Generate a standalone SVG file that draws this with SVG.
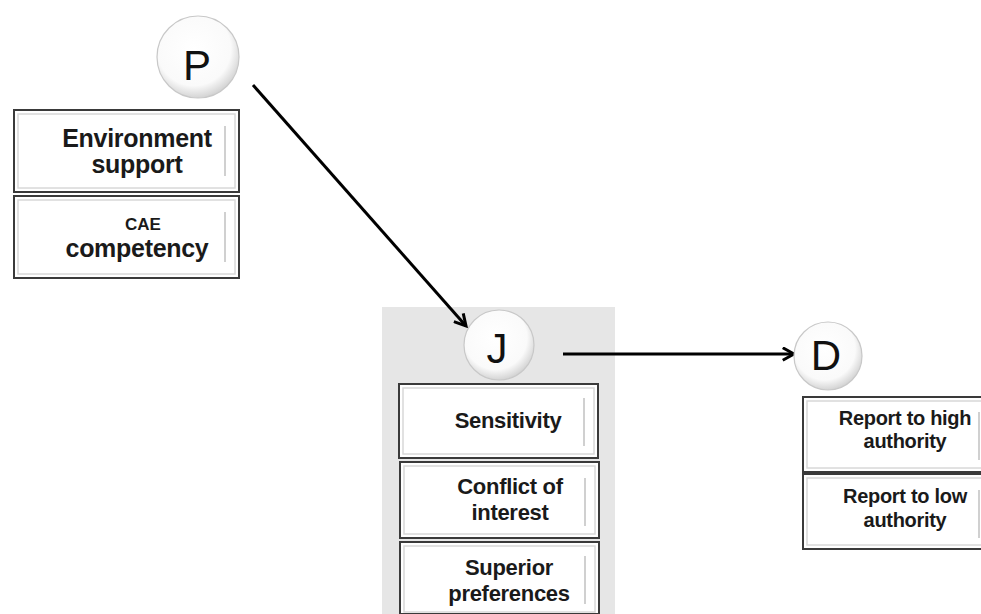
<svg xmlns="http://www.w3.org/2000/svg" width="981" height="614" viewBox="0 0 981 614">
<defs>
<radialGradient id="ball" cx="0.45" cy="0.4" r="0.6">
<stop offset="0" stop-color="#ffffff"/>
<stop offset="0.75" stop-color="#fafafa"/>
<stop offset="1" stop-color="#d4d4d4"/>
</radialGradient>
<marker id="arr" viewBox="0 0 12 12" refX="10" refY="6" markerWidth="5" markerHeight="5" orient="auto" markerUnits="strokeWidth">
<path d="M1,1 L10,6 L1,11" fill="none" stroke="#000" stroke-width="2.4"/>
</marker>
<style>
.box{fill:#fff;stroke:#3a3a3a;stroke-width:2}
.inner{fill:none;stroke:#d8d8d8;stroke-width:1.5}
.bar{stroke:#d0d0d0;stroke-width:2}
.ball{fill:url(#ball);stroke:#c8c8c8;stroke-width:1.2}
.lt{font-family:"Liberation Sans",Arial,sans-serif;font-size:42px;fill:#111;text-anchor:middle}
.t{font-family:"Liberation Sans",Arial,sans-serif;font-weight:bold;fill:#1a1a1a;text-anchor:middle;letter-spacing:-0.3px}
.tl{font-size:25px}
.tj{font-size:22px}
.td{font-size:20px}
.ts{font-family:"Liberation Sans",Arial,sans-serif;font-weight:bold;font-size:17px;fill:#1a1a1a;text-anchor:middle}
.con{stroke:#000;stroke-width:3;fill:none}
</style>
</defs>
<rect width="981" height="614" fill="#fff"/>
<rect x="382" y="307" width="233" height="307" fill="#e6e6e6"/>
<g id="connectors">
<line class="con" x1="253" y1="85" x2="466" y2="326" marker-end="url(#arr)"/>
<line class="con" x1="563" y1="354" x2="794" y2="354" marker-end="url(#arr)"/>
</g>
<g id="node-P">
<circle class="ball" cx="198" cy="57" r="41"/>
<text class="lt" x="197" y="80">P</text>
</g>
<g id="node-env">
<rect class="box" x="14" y="110" width="225" height="82"/>
<rect class="inner" x="18" y="114" width="217" height="74"/>
<line class="bar" x1="225" y1="126" x2="225" y2="176"/>
<text class="t tl" x="137" y="147">Environment</text>
<text class="t tl" x="137" y="173">support</text>
</g>
<g id="node-cae">
<rect class="box" x="14" y="196" width="225" height="82"/>
<rect class="inner" x="18" y="200" width="217" height="74"/>
<line class="bar" x1="225" y1="212" x2="225" y2="262"/>
<text class="ts" x="143" y="230">CAE</text>
<text class="t tl" x="137" y="257">competency</text>
</g>
<g id="node-J">
<circle class="ball" cx="499" cy="345" r="35"/>
<text class="lt" x="497" y="363">J</text>
</g>
<g id="node-sens">
<rect class="box" x="399" y="384" width="199" height="74"/>
<rect class="inner" x="403" y="388" width="191" height="66"/>
<line class="bar" x1="584" y1="398" x2="584" y2="446"/>
<text class="t tj" x="508" y="428">Sensitivity</text>
</g>
<g id="node-conf">
<rect class="box" x="400" y="462" width="199" height="76"/>
<rect class="inner" x="404" y="466" width="191" height="68"/>
<line class="bar" x1="585" y1="478" x2="585" y2="526"/>
<text class="t tj" x="510" y="494">Conflict of</text>
<text class="t tj" x="510" y="520">interest</text>
</g>
<g id="node-sup">
<rect class="box" x="400" y="542" width="199" height="72"/>
<rect class="inner" x="404" y="546" width="191" height="66"/>
<line class="bar" x1="585" y1="556" x2="585" y2="604"/>
<text class="t tj" x="509" y="575">Superior</text>
<text class="t tj" x="509" y="601">preferences</text>
</g>
<g id="node-D">
<circle class="ball" cx="828" cy="356" r="34"/>
<text class="lt" x="826" y="370">D</text>
</g>
<g id="node-high">
<rect class="box" x="803" y="397" width="190" height="75"/>
<rect class="inner" x="807" y="401" width="182" height="67"/>
<line class="bar" x1="979" y1="412" x2="979" y2="460"/>
<text class="t td" x="905" y="425">Report to high</text>
<text class="t td" x="905" y="448">authority</text>
</g>
<g id="node-low">
<rect class="box" x="803" y="474" width="190" height="75"/>
<rect class="inner" x="807" y="478" width="182" height="67"/>
<line class="bar" x1="979" y1="490" x2="979" y2="538"/>
<text class="t td" x="905" y="503">Report to low</text>
<text class="t td" x="905" y="527">authority</text>
</g>
</svg>
